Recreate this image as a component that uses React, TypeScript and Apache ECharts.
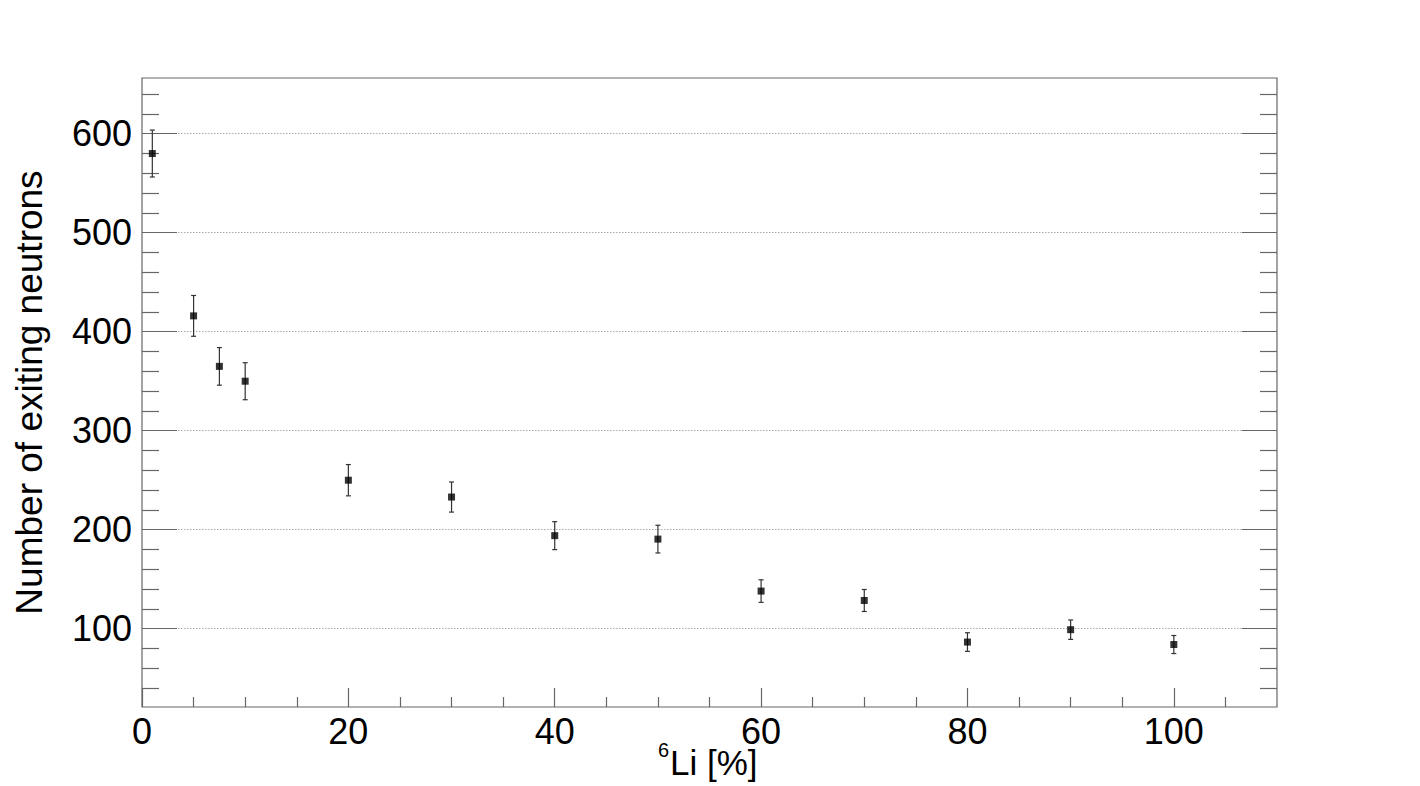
import React, { useEffect, useRef } from "react";
import * as echarts from "echarts";

const xValues = [1, 5, 7.5, 10, 20, 30, 40, 50, 60, 70, 80, 90, 100];
const yValues = [580, 416, 365, 350, 250, 233, 194, 190.5, 138, 128.5, 86.5, 99, 84];
const yErrors = [23.7, 20.6, 19, 18.7, 15.8, 15.2, 14.1, 14, 11.4, 11.1, 9.4, 9.8, 9.1];

const xMajorTicks = [0, 20, 40, 60, 80, 100];
const xMinorTicks = [5, 10, 15, 25, 30, 35, 45, 50, 55, 65, 70, 75, 85, 90, 95, 105];
const yMajorTicks = [100, 200, 300, 400, 500, 600];
const yMinorTicks = [40, 60, 80, 120, 140, 160, 180, 220, 240, 260, 280, 320, 340, 360, 380, 420, 440, 460, 480, 520, 540, 560, 580, 620, 640];

const xTitleSup = "6";
const xTitleMain = "Li [%]";
const yTitle = "Number of exiting neutrons";

const X_MIN = 0;
const X_MAX = 110;
const Y_MIN = 20.9;
const Y_MAX = 656.3;

const FONT = "'Liberation Sans', Arial, Helvetica, sans-serif";
const AXIS_COLOR = "#666";

export default function App() {
  const ref = useRef<HTMLDivElement>(null);

  useEffect(() => {
    if (!ref.current) return;
    const chart = echarts.init(ref.current, undefined, { renderer: "svg" });

    const points = xValues.map((x, i) => [x, yValues[i], yErrors[i]]);

    const baseX = {
      type: "value" as const,
      min: X_MIN,
      max: X_MAX,
      gridIndex: 0,
      position: "bottom" as const,
      axisLine: { show: false },
      splitLine: { show: false },
    };
    const baseY = {
      type: "value" as const,
      min: Y_MIN,
      max: Y_MAX,
      gridIndex: 0,
      axisLine: { show: false },
      splitLine: { show: false },
    };

    const option: any = {
      animation: false,
      backgroundColor: "#ffffff",
      textStyle: { fontFamily: FONT },
      grid: {
        show: true,
        left: 142,
        right: 143,
        top: 78,
        bottom: 79,
        containLabel: false,
        outerBoundsMode: "none",
        borderColor: AXIS_COLOR,
        borderWidth: 1.2,
        backgroundColor: "transparent",
      },
      graphic: [
        {
          type: "group",
          children: [
            {
              type: "text",
              x: 658,
              y: 750,
              style: {
                text: xTitleSup,
                fontSize: 20,
                fontFamily: FONT,
                fill: "#000",
                align: "left",
                verticalAlign: "middle",
              },
            },
            {
              type: "text",
              x: 670,
              y: 762,
              style: {
                text: xTitleMain,
                fontSize: 35,
                fontFamily: FONT,
                fill: "#000",
                align: "left",
                verticalAlign: "middle",
              },
            },
          ],
        },
      ],
      xAxis: [
        {
          ...baseX,
          axisTick: {
            show: true,
            inside: true,
            length: 19,
            customValues: xMajorTicks,
            lineStyle: { color: AXIS_COLOR, width: 1.2 },
          },
          axisLabel: {
            show: true,
            customValues: xMajorTicks,
            color: "#000",
            fontSize: 36,
            fontFamily: FONT,
            margin: 6,
          },
        },
        {
          ...baseX,
          axisTick: {
            show: true,
            inside: true,
            length: 10,
            customValues: xMinorTicks,
            lineStyle: { color: AXIS_COLOR, width: 1.2 },
          },
          axisLabel: { show: false },
        },
      ],
      yAxis: [
        {
          ...baseY,
          position: "left",
          name: yTitle,
          nameLocation: "middle",
          nameGap: 94,
          nameRotate: 90,
          nameTextStyle: { color: "#000", fontFamily: FONT, fontSize: 37 },
          axisTick: {
            show: true,
            inside: true,
            length: 35,
            customValues: yMajorTicks,
            lineStyle: { color: AXIS_COLOR, width: 1.2 },
          },
          axisLabel: {
            show: true,
            customValues: yMajorTicks,
            color: "#000",
            fontSize: 36,
            fontFamily: FONT,
            margin: 10,
          },
          splitLine: {
            show: true,
            lineStyle: { color: "#aaa", width: 1, type: [1.5, 1.5] },
          },
        },
        {
          ...baseY,
          position: "left",
          axisTick: {
            show: true,
            inside: true,
            length: 17,
            customValues: yMinorTicks,
            lineStyle: { color: AXIS_COLOR, width: 1.2 },
          },
          axisLabel: { show: false },
        },
        {
          ...baseY,
          position: "right",
          axisTick: {
            show: true,
            inside: true,
            length: 35,
            customValues: yMajorTicks,
            lineStyle: { color: AXIS_COLOR, width: 1.2 },
          },
          axisLabel: { show: false },
        },
        {
          ...baseY,
          position: "right",
          axisTick: {
            show: true,
            inside: true,
            length: 17,
            customValues: yMinorTicks,
            lineStyle: { color: AXIS_COLOR, width: 1.2 },
          },
          axisLabel: { show: false },
        },
      ],
      series: [
        {
          type: "custom",
          xAxisIndex: 0,
          yAxisIndex: 0,
          data: points,
          z: 3,
          renderItem: (params: any, api: any) => {
            const x = api.value(0);
            const y = api.value(1);
            const e = api.value(2);
            const top = api.coord([x, y + e]);
            const bot = api.coord([x, y - e]);
            const cap = 2.5;
            const style = { stroke: "#333", lineWidth: 1.2 };
            return {
              type: "group",
              children: [
                { type: "line", shape: { x1: top[0], y1: top[1], x2: bot[0], y2: bot[1] }, style },
                { type: "line", shape: { x1: top[0] - cap, y1: top[1], x2: top[0] + cap, y2: top[1] }, style },
                { type: "line", shape: { x1: bot[0] - cap, y1: bot[1], x2: bot[0] + cap, y2: bot[1] }, style },
              ],
            };
          },
        },
        {
          type: "scatter",
          xAxisIndex: 0,
          yAxisIndex: 0,
          data: points.map((p) => [p[0], p[1]]),
          symbol: "rect",
          symbolSize: 7,
          itemStyle: { color: "#000" },
          z: 4,
        },
      ],
    };

    chart.setOption(option);
    return () => chart.dispose();
  }, []);

  return (
    <div
      ref={ref}
      style={{ position: "fixed", left: 0, top: 0, width: 1420, height: 786, background: "#fff" }}
    />
  );
}
